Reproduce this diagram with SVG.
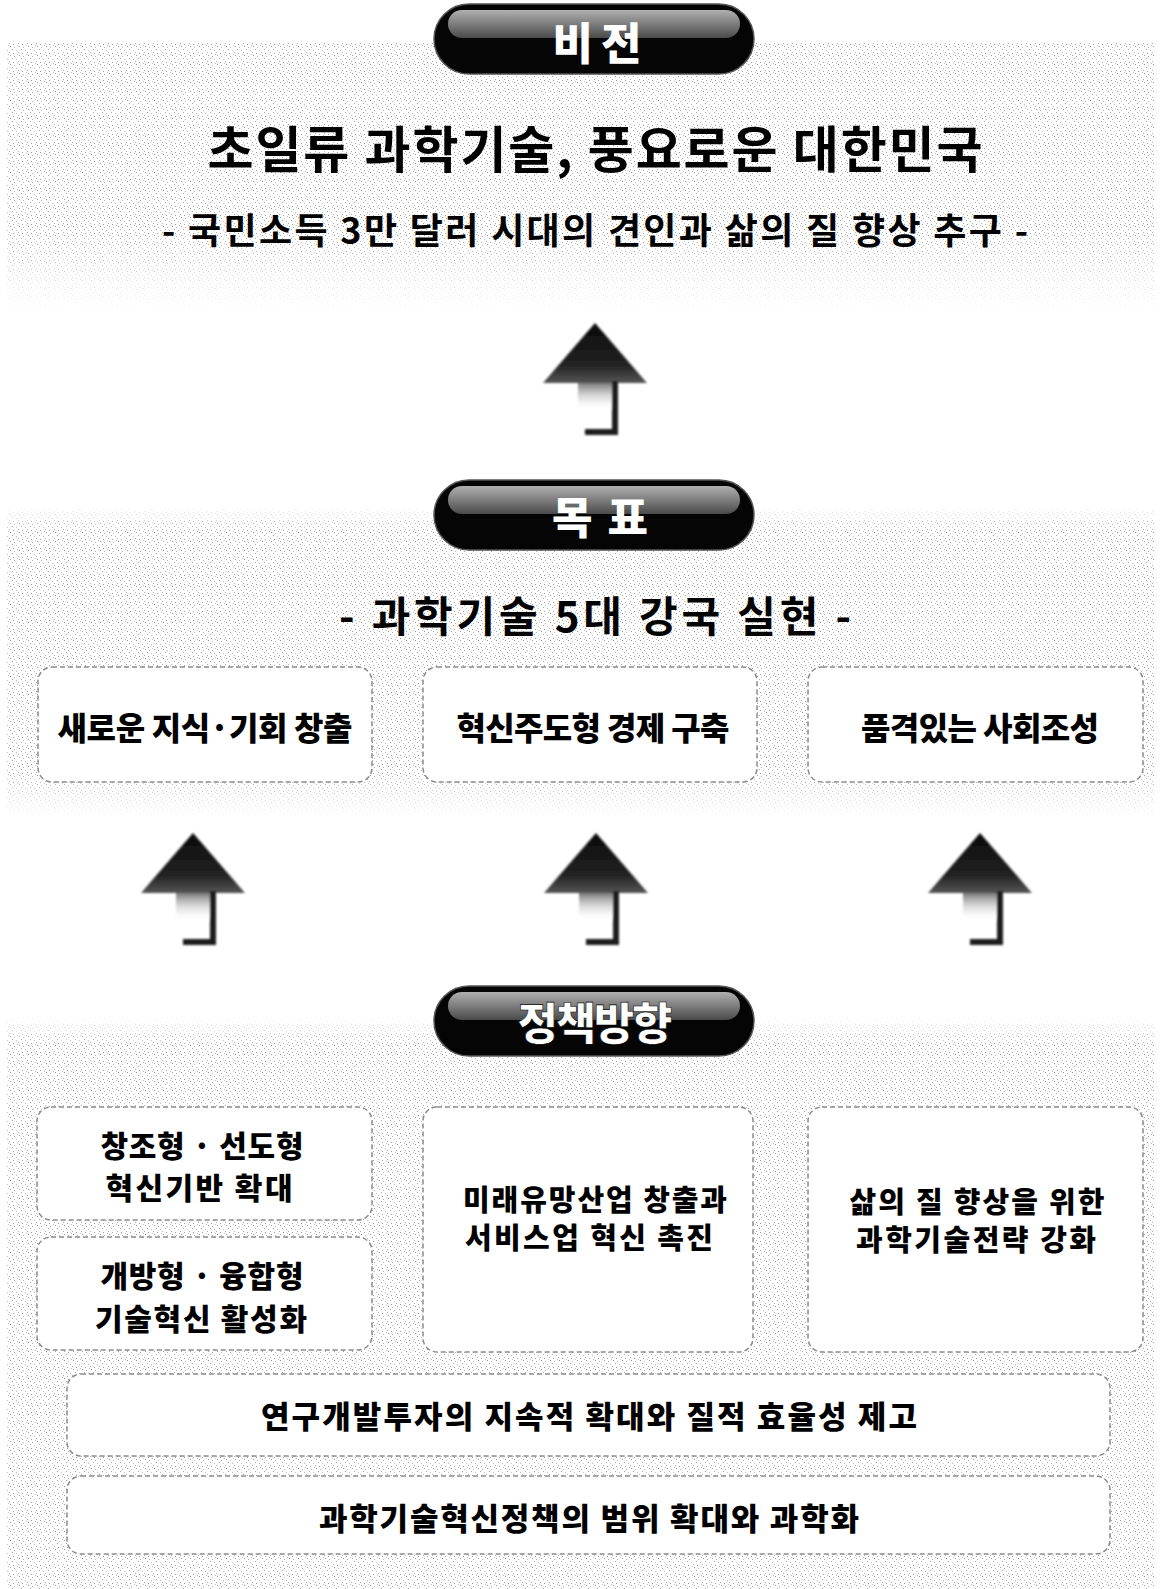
<svg xmlns="http://www.w3.org/2000/svg" width="1162" height="1589" viewBox="0 0 1162 1589">
<style>
.t{font-family:"Noto Sans CJK KR","Noto Sans",sans-serif;fill:#000;text-anchor:middle}
.m{font-weight:700}
.b{font-weight:900}
.w{fill:#fff;font-weight:900}
.box{fill:#fff;stroke:#8a8a8a;stroke-width:1.5;stroke-dasharray:5 3}
.stem{fill:none;stroke:#1a1a1a;stroke-width:6;stroke-linejoin:miter}
</style>
<defs>
<pattern id="dots" width="9" height="9" patternUnits="userSpaceOnUse">
<rect x="1" y="1" width="1" height="1" fill="#9a9a9a"/>
<rect x="5" y="2" width="1" height="1" fill="#b5b5b5"/>
<rect x="3" y="4" width="1" height="1" fill="#a8a8a8"/>
<rect x="7" y="5" width="1" height="1" fill="#c0c0c0"/>
<rect x="0" y="7" width="1" height="1" fill="#b0b0b0"/>
<rect x="4" y="8" width="1" height="1" fill="#a0a0a0"/>
<rect x="8" y="0" width="1" height="1" fill="#c4c4c4"/>
</pattern>
<linearGradient id="fadeV" x1="0" y1="0" x2="0" y2="1">
<stop offset="0" stop-color="#fff"/><stop offset="0.7" stop-color="#fff"/><stop offset="1" stop-color="#000"/>
</linearGradient>
<linearGradient id="fadeG" x1="0" y1="0" x2="0" y2="1">
<stop offset="0" stop-color="#000"/><stop offset="0.08" stop-color="#fff"/><stop offset="0.85" stop-color="#fff"/><stop offset="1" stop-color="#000"/>
</linearGradient>
<linearGradient id="fadeP" x1="0" y1="0" x2="0" y2="1">
<stop offset="0" stop-color="#000"/><stop offset="0.05" stop-color="#fff"/><stop offset="1" stop-color="#fff"/>
</linearGradient>
<mask id="m1"><rect x="0" y="43" width="1162" height="270" fill="url(#fadeV)"/></mask>
<mask id="m2"><rect x="0" y="505" width="1162" height="315" fill="url(#fadeG)"/></mask>
<mask id="m3"><rect x="0" y="1015" width="1162" height="574" fill="url(#fadeP)"/></mask>
<linearGradient id="gloss" x1="0" y1="0" x2="0" y2="1">
<stop offset="0" stop-color="#b0b0b0"/><stop offset="1" stop-color="#4a4a4a"/>
</linearGradient>
<linearGradient id="tri" x1="0" y1="0" x2="0" y2="1">
<stop offset="0" stop-color="#0a0a0a"/><stop offset="0.7" stop-color="#222"/><stop offset="1" stop-color="#555"/>
</linearGradient>
<linearGradient id="shade" x1="0" y1="0" x2="0" y2="1">
<stop offset="0" stop-color="#777"/><stop offset="1" stop-color="#fff" stop-opacity="0"/>
</linearGradient>
<filter id="soft" x="-10%" y="-10%" width="120%" height="120%"><feGaussianBlur stdDeviation="0.9"/></filter>
<g id="arrow">
<rect x="-17" y="60" width="34" height="28" fill="url(#shade)"/>
<polygon points="0,0 52,60 -52,60" fill="url(#tri)"/>
<path class="stem" d="M20,58 V109 H-10"/>
</g>
<g id="pill">
<rect x="0" y="0" width="320" height="70" rx="35" fill="#050505" stroke="#555" stroke-width="1.5"/>
<rect x="14" y="6" width="292" height="28" rx="14" fill="url(#gloss)"/>
</g>
</defs>

<rect width="1162" height="1589" fill="#fff"/>

<g id="panels">
<rect x="7" y="43" width="1148" height="270" fill="url(#dots)" mask="url(#m1)"/>
<rect x="7" y="505" width="1148" height="315" fill="url(#dots)" mask="url(#m2)"/>
<rect x="7" y="1015" width="1148" height="574" fill="url(#dots)" mask="url(#m3)"/>
</g>

<g id="vision">
<use href="#pill" x="434" y="4"/>
<text class="t w" x="597" y="60" font-size="44" textLength="89">비 전</text>
<text class="t m" x="595" y="168" font-size="50" textLength="775">초일류 과학기술, 풍요로운 대한민국</text>
<text class="t m" x="595" y="244" font-size="36" textLength="866">- 국민소득 3만 달러 시대의 견인과 삶의 질 향상 추구 -</text>
</g>

<g id="goal">
<use href="#pill" x="434" y="480"/>
<text class="t w" x="600" y="534" font-size="44" textLength="96">목 표</text>
<text class="t m" x="595" y="632" font-size="42" textLength="512">- 과학기술 5대 강국 실현 -</text>
</g>

<g id="goal1">
<rect class="box" x="38" y="667" width="334" height="115" rx="14"/>
<text class="t b" x="205" y="740" font-size="32" textLength="295">새로운 지식·기회 창출</text>
</g>
<g id="goal2">
<rect class="box" x="423" y="667" width="334" height="115" rx="14"/>
<text class="t b" x="593" y="740" font-size="32" textLength="273">혁신주도형 경제 구축</text>
</g>
<g id="goal3">
<rect class="box" x="808" y="667" width="335" height="115" rx="14"/>
<text class="t b" x="980" y="740" font-size="32" textLength="238">품격있는 사회조성</text>
</g>

<g id="policy">
<use href="#pill" x="434" y="986"/>
<text class="t w" x="595" y="1040" font-size="44" textLength="155" stroke="#000" stroke-width="0.6">정책방향</text>
</g>

<g id="policyA">
<rect class="box" x="37" y="1107" width="335" height="113" rx="14"/>
<text class="t b" x="202" y="1157" font-size="30" textLength="203">창조형 · 선도형</text>
<text class="t b" x="199" y="1199" font-size="30" textLength="187">혁신기반 확대</text>
</g>
<g id="policyB">
<rect class="box" x="37" y="1237" width="335" height="113" rx="14"/>
<text class="t b" x="202" y="1287" font-size="30" textLength="203">개방형 · 융합형</text>
<text class="t b" x="201" y="1330" font-size="30" textLength="212">기술혁신 활성화</text>
</g>
<g id="policyC">
<rect class="box" x="423" y="1107" width="330" height="245" rx="14"/>
<text class="t b" x="595" y="1211" font-size="29" textLength="264">미래유망산업 창출과</text>
<text class="t b" x="589" y="1249" font-size="29" textLength="248">서비스업 혁신 촉진</text>
</g>
<g id="policyD">
<rect class="box" x="808" y="1107" width="335" height="245" rx="14"/>
<text class="t b" x="977" y="1213" font-size="29" textLength="255">삶의 질 향상을 위한</text>
<text class="t b" x="976" y="1251" font-size="29" textLength="240">과학기술전략 강화</text>
</g>
<g id="policyE">
<rect class="box" x="67" y="1374" width="1043" height="82" rx="14"/>
<text class="t b" x="589" y="1428" font-size="31" textLength="656">연구개발투자의 지속적 확대와 질적 효율성 제고</text>
</g>
<g id="policyF">
<rect class="box" x="67" y="1476" width="1043" height="78" rx="14"/>
<text class="t b" x="589" y="1530" font-size="31" textLength="540">과학기술혁신정책의 범위 확대와 과학화</text>
</g>

<g id="connectors" filter="url(#soft)">
<use href="#arrow" x="595" y="323"/>
<use href="#arrow" x="193" y="833"/>
<use href="#arrow" x="596" y="833"/>
<use href="#arrow" x="980" y="833"/>
</g>
</svg>
